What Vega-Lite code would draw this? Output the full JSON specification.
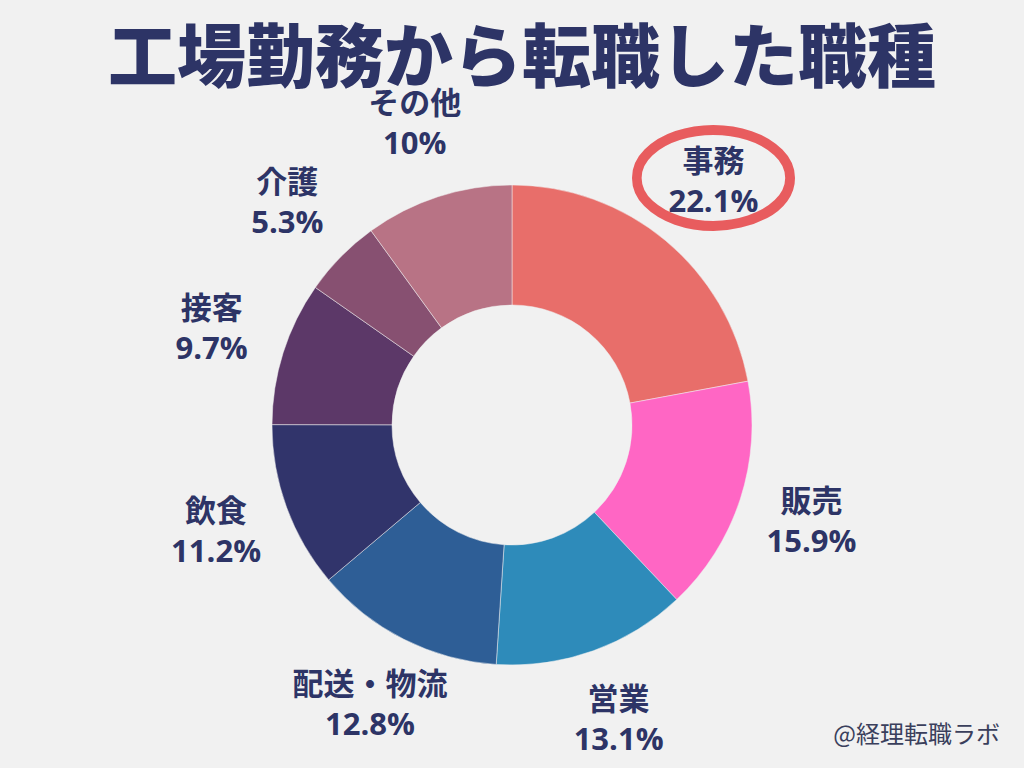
{
  "$schema": "https://vega.github.io/schema/vega-lite/v6.json",
  "autosize": {"type": "fit", "contains": "padding"},
  "width": 1024,
  "height": 768,
  "padding": {"top": 27, "left": 0, "right": 0, "bottom": 0},
  "background": "#f1f1f1",
  "config": {"view": {"stroke": null}},
  "title": {
    "text": "工場勤務から転職した職種",
    "font": "Noto Sans CJK JP",
    "fontSize": 69,
    "fontWeight": 900,
    "color": "#2d3466",
    "anchor": "middle",
    "offset": -14,
    "dx": 10
  },
  "data": {
    "values": [
      {"order": 1, "name": "事務", "pct": "22.1%", "value": 22.1},
      {"order": 2, "name": "販売", "pct": "15.9%", "value": 15.9},
      {"order": 3, "name": "営業", "pct": "13.1%", "value": 13.1},
      {"order": 4, "name": "配送・物流", "pct": "12.8%", "value": 12.8},
      {"order": 5, "name": "飲食", "pct": "11.2%", "value": 11.2},
      {"order": 6, "name": "接客", "pct": "9.7%", "value": 9.7},
      {"order": 7, "name": "介護", "pct": "5.3%", "value": 5.3},
      {"order": 8, "name": "その他", "pct": "10%", "value": 10}
    ]
  },
  "encoding": {
    "theta": {"field": "value", "type": "quantitative", "stack": true},
    "order": {"field": "order", "type": "quantitative"}
  },
  "layer": [
    {
      "mark": {"type": "arc", "innerRadius": 120, "outerRadius": 240, "stroke": "#f1f1f1", "strokeWidth": 0.5},
      "encoding": {
        "color": {
          "field": "name",
          "type": "nominal",
          "legend": null,
          "scale": {
            "domain": ["事務", "販売", "営業", "配送・物流", "飲食", "接客", "介護", "その他"],
            "range": ["#e86e6a", "#ff66c4", "#2e8bba", "#2e5e96", "#31346b", "#5c3868", "#875071", "#b87385"]
          }
        }
      }
    },
    {
      "mark": {"type": "text", "radius": 315, "dy": -20, "font": "Open Sans, Noto Sans CJK JP", "fontSize": 31, "fontWeight": "bold", "color": "#2d3466", "baseline": "middle", "align": "center"},
      "encoding": {"text": {"field": "name", "type": "nominal"}}
    },
    {
      "mark": {"type": "text", "radius": 315, "dy": 20, "font": "Open Sans, Noto Sans CJK JP", "fontSize": 31, "fontWeight": "bold", "color": "#2d3466", "baseline": "middle", "align": "center"},
      "encoding": {"text": {"field": "pct", "type": "nominal"}}
    },
    {
      "transform": [{"filter": "datum.order == 1"}],
      "mark": {"type": "text", "radius": 315, "dy": 0, "font": "DejaVu Sans", "fontSize": 200, "color": "#e85c5e", "baseline": "middle", "align": "center"},
      "encoding": {"text": {"value": "⬭"}}
    },
    {
      "transform": [{"filter": "datum.order == 1"}],
      "mark": {"type": "text", "font": "Noto Sans CJK JP", "fontSize": 24, "color": "#3a3f5c", "align": "right", "baseline": "bottom", "dx": -24, "dy": -20},
      "encoding": {
        "theta": null,
        "order": null,
        "x": {"value": "width"},
        "y": {"value": "height"},
        "text": {"value": "@経理転職ラボ"}
      }
    }
  ]
}
